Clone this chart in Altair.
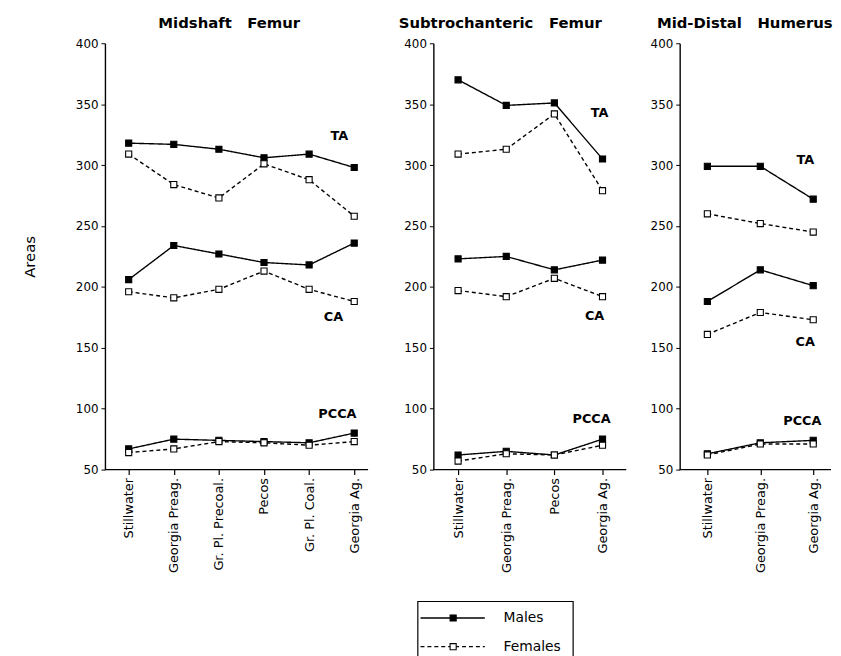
import altair as alt
import pandas as pd

# ---------------- data ----------------
sexes = ["Males", "Females"]
measures = ["TA", "CA", "PCCA"]
y_ticks = [50, 100, 150, 200, 250, 300, 350, 400]

# Midshaft Femur
sites1 = ["Stillwater", "Georgia Preag.", "Gr. Pl. Precoal.", "Pecos", "Gr. Pl. Coal.", "Georgia Ag."]
mf_ta_m = [318, 317, 313, 306, 309, 298]
mf_ta_f = [309, 284, 273, 301, 288, 258]
mf_ca_m = [206, 234, 227, 220, 218, 236]
mf_ca_f = [196, 191, 198, 213, 198, 188]
mf_pcca_m = [67, 75, 74, 73, 72, 80]
mf_pcca_f = [64, 67, 73, 72, 70, 73]

# Subtrochanteric Femur
sites2 = ["Stillwater", "Georgia Preag.", "Pecos", "Georgia Ag."]
sf_ta_m = [370, 349, 351, 305]
sf_ta_f = [309, 313, 342, 279]
sf_ca_m = [223, 225, 214, 222]
sf_ca_f = [197, 192, 207, 192]
sf_pcca_m = [62, 65, 62, 75]
sf_pcca_f = [57, 63, 62, 70]

# Mid-Distal Humerus
sites3 = ["Stillwater", "Georgia Preag.", "Georgia Ag."]
hu_ta_m = [299, 299, 272]
hu_ta_f = [260, 252, 245]
hu_ca_m = [188, 214, 201]
hu_ca_f = [161, 179, 173]
hu_pcca_m = [63, 72, 74]
hu_pcca_f = [62, 71, 71]

# series label placement (value on y axis, horizontal nudge)
labels1 = [("TA", 324, -15), ("CA", 175, -21), ("PCCA", 96, -17)]
labels2 = [("TA", 343, -3), ("CA", 176, -8), ("PCCA", 91.5, -11)]
labels3 = [("TA", 304, -8), ("CA", 155, -8), ("PCCA", 90, -11)]

FONT = "DejaVu Sans"
NB = "\u00a0"


def make_df(sites, series):
    rows = []
    for measure in measures:
        for sex in sexes:
            for site, v in zip(sites, series[(measure, sex)]):
                rows.append({"site": site, "measure": measure, "sex": sex, "value": v})
    return pd.DataFrame(rows)


dash_scale = alt.Scale(domain=sexes, range=[[1, 0], [4, 3]])
fill_scale = alt.Scale(domain=sexes, range=["black", "white"])


def panel(sites, series, labels, title, title_dx, width, xrange, first):
    df = make_df(sites, series)
    x = alt.X(
        "site:N", sort=sites,
        scale=alt.Scale(type="point", range=xrange, padding=0),
        axis=alt.Axis(title=None, labelAngle=270, labelFont=FONT, labelFontSize=13,
                      labelColor="black", tickSize=5, tickColor="black", tickWidth=1.2,
                      domain=False, labelPadding=3, grid=False),
    )
    y = alt.Y(
        "value:Q",
        scale=alt.Scale(domain=[50, 400], nice=False, zero=False),
        axis=alt.Axis(values=y_ticks, grid=False, title="Areas" if first else None,
                      titleFont=FONT, titleFontSize=15, titleFontWeight="normal",
                      titleColor="black", titlePadding=38,
                      labelFont=FONT, labelFontSize=12, labelColor="black",
                      tickSize=4, tickColor="black", domainColor="black",
                      domainWidth=1.4, labelPadding=3),
    )
    base = alt.Chart(df)
    # x axis baseline across the whole plot width
    baseline = alt.Chart(pd.DataFrame({"value": [y_ticks[0]]})).mark_rule(
        color="black", strokeWidth=1.4).encode(
        x=alt.value(0), x2=alt.value(width), y=y
    )
    lines = base.mark_line(color="black", strokeWidth=1.4).encode(
        x=x, y=y, detail="measure:N",
        strokeDash=alt.StrokeDash("sex:N", scale=dash_scale, legend=None),
    )
    pts = base.mark_point(shape="square", size=38, filled=True, opacity=1,
                          stroke="black", strokeWidth=1.1).encode(
        x=x, y=y,
        fill=alt.Fill("sex:N", scale=fill_scale, legend=None),
    )
    layers = [baseline, lines, pts]
    for name, val, dx in labels:
        ldf = pd.DataFrame({"site": [sites[-1]], "value": [val], "label": [name]})
        layers.append(
            alt.Chart(ldf).mark_text(font=FONT, fontSize=13, fontWeight="bold",
                                     color="black", dx=dx, align="center",
                                     baseline="middle").encode(
                x=x, y=y, text="label:N")
        )
    return alt.layer(*layers).properties(
        width=width, height=431,
        title=alt.TitleParams(text=title, anchor="start", frame="group", dx=title_dx,
                              font=FONT, fontSize=15, fontWeight="bold",
                              color="black", offset=6),
    )


s1 = {("TA", "Males"): mf_ta_m, ("TA", "Females"): mf_ta_f,
      ("CA", "Males"): mf_ca_m, ("CA", "Females"): mf_ca_f,
      ("PCCA", "Males"): mf_pcca_m, ("PCCA", "Females"): mf_pcca_f}
s2 = {("TA", "Males"): sf_ta_m, ("TA", "Females"): sf_ta_f,
      ("CA", "Males"): sf_ca_m, ("CA", "Females"): sf_ca_f,
      ("PCCA", "Males"): sf_pcca_m, ("PCCA", "Females"): sf_pcca_f}
s3 = {("TA", "Males"): hu_ta_m, ("TA", "Females"): hu_ta_f,
      ("CA", "Males"): hu_ca_m, ("CA", "Females"): hu_ca_f,
      ("PCCA", "Males"): hu_pcca_m, ("PCCA", "Females"): hu_pcca_f}

p1 = panel(sites1, s1, labels1, f"Midshaft{NB}{NB}{NB}Femur", 54, 266, [24, 252], True)
p2 = panel(sites2, s2, labels2, f"Subtrochanteric{NB}{NB}{NB}Femur", -35, 195, [25, 171], False)
p3 = panel(sites3, s3, labels3, f"Mid-Distal{NB}{NB}{NB}Humerus", -23, 153, [28, 135], False)

top = alt.hconcat(p1, alt.hconcat(p2, p3, spacing=23), spacing=30)

# ---------------- legend (manual) ----------------
ldf = pd.DataFrame({"sex": sexes})
ly = alt.Y("sex:N", scale=alt.Scale(type="point", domain=sexes, range=[17, 46], padding=0), axis=None)
leg_rule = alt.Chart(ldf).mark_rule(color="black", strokeWidth=1.3).encode(
    x=alt.value(3), x2=alt.value(68), y=ly,
    strokeDash=alt.StrokeDash("sex:N", scale=dash_scale, legend=None),
)
leg_pt = alt.Chart(ldf).mark_point(shape="square", size=38, filled=True, opacity=1,
                                   stroke="black", strokeWidth=1.1).encode(
    x=alt.value(36), y=ly, fill=alt.Fill("sex:N", scale=fill_scale, legend=None),
)
leg_txt = alt.Chart(ldf).mark_text(font=FONT, fontSize=14, align="left", baseline="middle",
                                   color="black").encode(
    x=alt.value(87), y=ly, text="sex:N",
)
legend = alt.layer(leg_rule, leg_pt, leg_txt).properties(
    width=157, height=66, view=alt.ViewBackground(stroke="black", strokeWidth=1.2)
)
spacer = alt.Chart(pd.DataFrame({"a": [0]})).mark_point(opacity=0).encode(
    x=alt.value(0), y=alt.value(0)
).properties(width=315, height=66)

bottom = alt.hconcat(spacer, legend, spacing=0)

chart = alt.vconcat(top, bottom, spacing=25).properties(
    padding={"left": 15, "top": 5, "right": 0, "bottom": 5}
).configure_view(stroke=None).resolve_scale(strokeDash="independent", fill="independent")

chart.save("out.html", embed_options={"renderer": "svg", "actions": False})
